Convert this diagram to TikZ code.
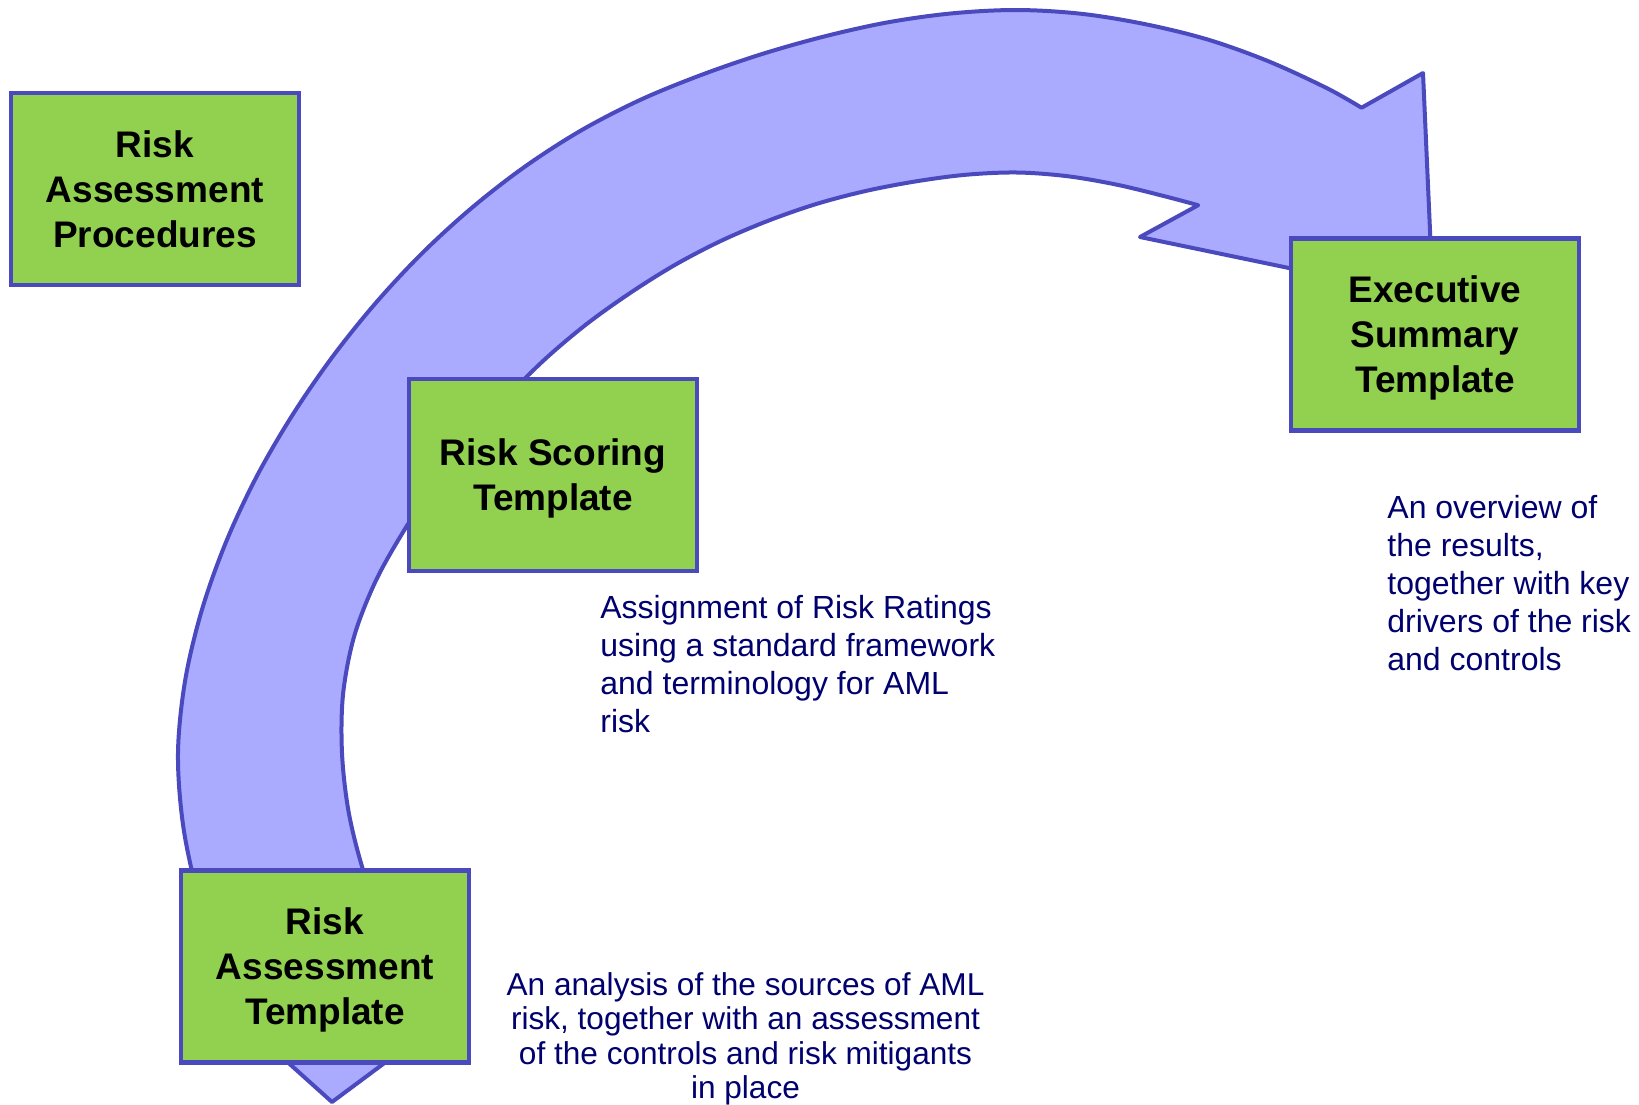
\documentclass[tikz,border=0pt]{standalone}
\usepackage{fontspec}
\setmainfont{Liberation Sans}
\definecolor{arrowfill}{RGB}{170,170,255}
\definecolor{edgeblue}{RGB}{74,74,190}
\definecolor{boxgreen}{RGB}{146,208,80}
\definecolor{navy}{RGB}{0,0,110}
\begin{document}
\begin{tikzpicture}[x=0.5pt,y=-0.5pt,
  stepbox/.style={draw=edgeblue, line width=2.4pt, fill=boxgreen, minimum width=144pt, minimum height=96pt, inner sep=0pt, align=center, font=\fontsize{18.5pt}{22.5pt}\selectfont\bfseries},
  desc/.style={text=navy, inner sep=0pt, font=\fontsize{16pt}{19pt}\selectfont},
  band/.style={draw=edgeblue, line width=2pt, fill=arrowfill, line join=round}]
\useasboundingbox (0,0) rectangle (1639,1104);

% big curved arrow (polar coordinates around the centre of the curve)
\begin{scope}[shift={(1017,753)}, y=0.5pt]
\path[band] (-685,-349)
  -- plot[smooth, tension=0.55] coordinates {(200:813) (195:823) (190:831) (185:837) (180:839) (175:835) (170:827.5) (165:818.5) (160:809) (155:799.5) (150:791) (145:783.5) (140:777) (135:771) (130:765.5) (125:760) (120:754) (115:748) (110:744) (105:742) (100:742) (95:742.5) (90:743) (85:742) (80:740) (75:738.5) (70:736) (65:733.5) (61.9:731.5)}
  -- (406,680) -- (416,455) -- (123,516)
  -- plot[smooth, tension=0.55] coordinates {(71.7:577) (75:576) (80:577) (85:579) (90:580.5) (95:580.5) (100:580.5) (105:582) (110:584.5) (115:587.5) (120:591.5) (125:596) (130:601) (135:607.5) (140:614.5) (145:622) (150:631) (155:641) (160:652) (165:664) (170:673) (175:676.5) (180:675) (185:671) (190:664.5) (195:657) (200:648) (205:638)}
  -- cycle;
\end{scope}

\node[stepbox] (rap) at (155,189) {Risk\\Assessment\\Procedures};
\node[stepbox] (rst) at (553,475) {Risk Scoring\\\smash{Template}};
\node[stepbox] (est) at (1435,334.5) {Executive\\Summary\\\smash{Template}};
\node[stepbox] (rat) at (325,966.5) {Risk\\Assessment\\\smash{Template}};

\node[desc, anchor=north west, align=left] (d1) at (600,595) {Assignment of Risk Ratings\\using a standard framework\\and terminology for AML\\risk};
\node[desc, anchor=north west, align=left] (d2) at (1387,495) {An overview of\\the results,\\together with key\\drivers of the risk\\and controls};
\node[desc, anchor=north, align=center, font=\fontsize{15.8pt}{17.25pt}\selectfont] (d3) at (745.5,972) {An analysis of the sources of AML\\risk, together with an assessment\\of the controls and risk mitigants\\in place};
\end{tikzpicture}
\end{document}
